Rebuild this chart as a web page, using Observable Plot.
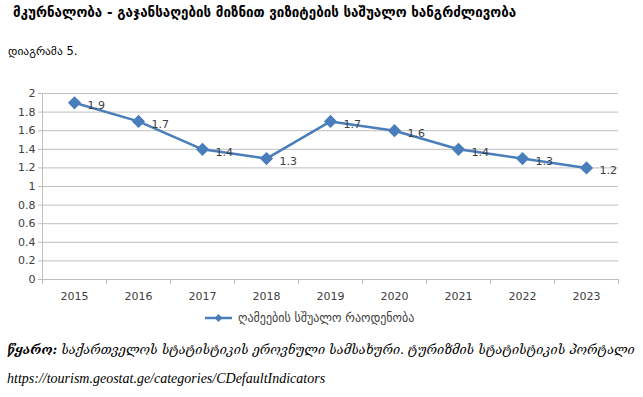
<!DOCTYPE html>
<html><head><meta charset="utf-8">
<script src="https://cdn.jsdelivr.net/npm/d3@7"></script>
<script src="https://cdn.jsdelivr.net/npm/@observablehq/plot@0.6"></script>
<style>
body{margin:0;background:#fff;width:643px;height:397px;position:relative;overflow:hidden;font-family:"DejaVu Sans",sans-serif;}
.abs{position:absolute;white-space:nowrap;}
#title{left:13px;top:5px;font-size:13.4px;font-weight:bold;color:#000;}
#sub{left:8px;top:44px;font-size:11.5px;color:#000;}
#chart{left:0;top:80px;}
#legend{left:205px;top:310px;font-size:12px;color:#404040;display:flex;align-items:center;}
#src1{left:7px;top:342px;font-size:12.6px;font-style:italic;font-family:"DejaVu Serif","DejaVu Sans",serif;}
#src2{left:7px;top:371px;font-size:14px;font-style:italic;font-family:"Liberation Serif",serif;}
</style></head>
<body>
<div id="title" class="abs">მკურნალობა - გაჯანსაღების მიზნით ვიზიტების საშუალო ხანგრძლივობა</div>
<div id="sub" class="abs">დიაგრამა 5.</div>
<div id="chart" class="abs"></div>
<div id="legend" class="abs"></div>
<div id="src1" class="abs"><b>წყარო:</b> საქართველოს სტატისტიკის ეროვნული სამსახური. ტურიზმის სტატისტიკის პორტალი</div>
<div id="src2" class="abs">https://tourism.geostat.ge/categories/CDefaultIndicators</div>
<script>
const years = ["2015","2016","2017","2018","2019","2020","2021","2022","2023"];
const values = [1.9,1.7,1.4,1.3,1.7,1.6,1.4,1.3,1.2];
const yTicks = [0,0.2,0.4,0.6,0.8,1,1.2,1.4,1.6,1.8,2];
const seriesName = "ღამეების სშუალო რაოდენობა";
const color = "#4a7ebb";

const data = years.map((y,i)=>({i, year:y, value:values[i]}));
const idx = years.map((_,i)=>i);
const bounds = [...idx.map(i=>i-0.5), years.length-0.5];

const chart = Plot.plot({
  width:643, height:225,
  marginTop:13, marginBottom:26, marginLeft:42, marginRight:25,
  style:{fontFamily:"DejaVu Sans, sans-serif", fontSize:"11px", color:"#404040", background:"#fff"},
  x:{type:"linear", domain:[-0.5, years.length-0.5]},
  y:{domain:[0,2]},
  marks:[
    Plot.gridY(yTicks,{stroke:"#bfbfbf", strokeOpacity:1, strokeWidth:1}),
    Plot.axisY({ticks:yTicks, tickSize:4, stroke:"#bfbfbf", tickPadding:3, tickFormat:d=>String(+d.toFixed(1)), fill:"#404040", label:null}),
    Plot.ruleX([-0.5],{stroke:"#bfbfbf"}),
    Plot.ruleY([0],{stroke:"#bfbfbf"}),
    Plot.axisX({ticks:bounds, tickSize:5, stroke:"#bfbfbf", tickFormat:()=>"", label:null}),
    Plot.axisX({ticks:idx, tickSize:0, tickPadding:13, tickFormat:i=>years[i], fill:"#404040", label:null}),
    Plot.line(data,{x:"i", y:"value", stroke:color, strokeWidth:2.5}),
    Plot.dot(data,{x:"i", y:"value", symbol:"diamond2", r:5, fill:color, stroke:color}),
    Plot.text(data,{x:"i", y:"value", text:d=>d.value.toFixed(1), dx:13, dy:3, textAnchor:"start", fill:"#404040", fontSize:11})
  ]
});
document.getElementById("chart").appendChild(chart);

const leg = document.getElementById("legend");
const ns = "http://www.w3.org/2000/svg";
const s = document.createElementNS(ns,"svg");
s.setAttribute("width","30"); s.setAttribute("height","16");
s.innerHTML = `<line x1="0" y1="8" x2="27" y2="8" stroke="${color}" stroke-width="2.5"/><path d="M13.5 4 L17.5 8 L13.5 12 L9.5 8 Z" fill="${color}"/>`;
leg.appendChild(s);
const t = document.createElement("span");
t.textContent = seriesName; t.style.marginLeft = "3px";
leg.appendChild(t);
</script>
</body></html>
